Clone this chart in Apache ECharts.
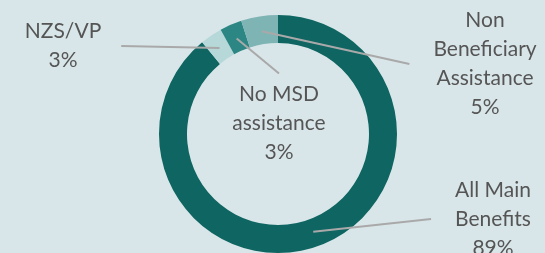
<!DOCTYPE html>
<html>
<head>
<meta charset="utf-8">
<script src="https://cdn.jsdelivr.net/npm/echarts@6/dist/echarts.min.js"></script>
<style>
html,body{margin:0;padding:0;background:#d9e6e9;}
#c{width:545px;height:253px;}
</style>
</head>
<body>
<div id="c"></div>
<script>
// Data
const categories = ['All Main\nBenefits', 'NZS/VP', 'No MSD\nassistance', 'Non\nBeneficiary\nAssistance'];
const shares = [89, 3, 3, 5];

// Styling / layout
const sliceColors = ['#0e6561', '#b6d8d8', '#2c8784', '#7fb4b5'];
const labelAnchors = [[493, 219], [63, 46], [279, 129], [485, 64]];
const labelPadding = [[0, 0, 0, 24], [0, 20, 0, 0], [12, 0, 0, 0], [0, 0, 0, 24]];
const CENTER = [278, 134];

const chart = echarts.init(document.getElementById('c'), null, {renderer: 'canvas'});

const ringData = categories.map((n, i) => ({
  name: n, value: shares[i], itemStyle: {color: sliceColors[i]}
}));
const labelData = categories.map((n, i) => ({
  name: n, value: shares[i],
  label: {padding: labelPadding[i]}
}));

chart.setOption({
  backgroundColor: '#d9e6e9',
  animation: false,
  series: [
    {
      type: 'pie',
      center: CENTER,
      radius: [91, 119],
      startAngle: 90,
      clockwise: true,
      silent: true,
      label: {show: false},
      labelLine: {show: false},
      itemStyle: {borderWidth: 0},
      data: ringData,
      z: 1
    },
    {
      type: 'pie',
      center: CENTER,
      radius: [0, 104],
      startAngle: 90,
      clockwise: true,
      silent: true,
      avoidLabelOverlap: false,
      itemStyle: {color: 'rgba(0,0,0,0)', borderWidth: 0},
      label: {
        show: true,
        position: 'outside',
        formatter: p => p.name + '\n' + p.value + '%',
        fontFamily: 'Lato',
        fontSize: 21,
        lineHeight: 29,
        color: '#555555',
        align: 'center'
      },
      labelLine: {
        show: true,
        length: 10,
        length2: 0,
        lineStyle: {color: '#a9a9a9', width: 2}
      },
      labelLayout: function (params) {
        const i = params.dataIndex;
        const a = labelAnchors[i];
        const p = labelPadding[i];
        return {
          x: a[0] + (p[1] - p[3]) / 2,
          y: a[1] + (p[2] - p[0]) / 2,
          align: 'center', verticalAlign: 'middle'
        };
      },
      data: labelData,
      z: 2
    }
  ]
});
</script>
</body>
</html>
